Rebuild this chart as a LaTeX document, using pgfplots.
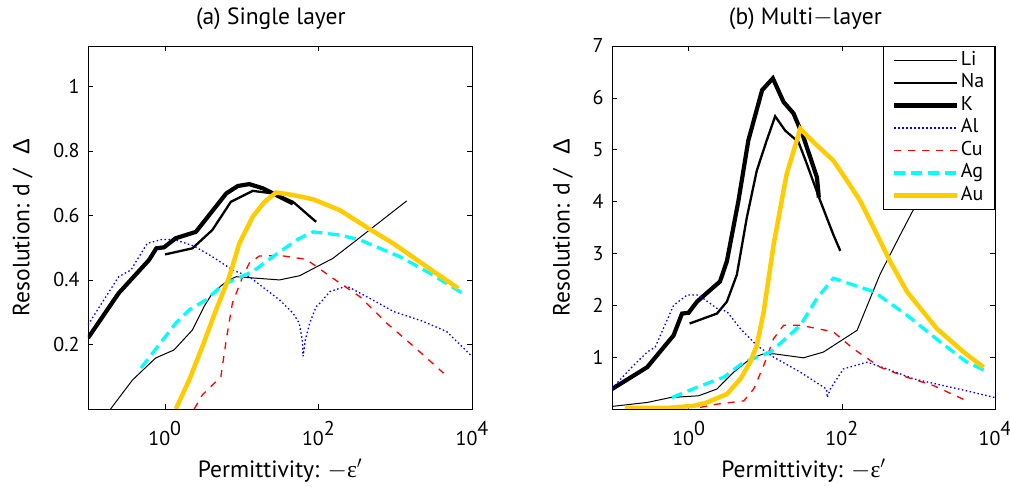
\documentclass[border=0pt]{standalone}
\usepackage{fontspec}
\setmainfont{PT Sans}
\newfontfamily\symfont{Liberation Sans}
\newfontfamily\serifgreek{Liberation Serif}
\usepackage{pgfplots}
\pgfplotsset{compat=1.18}

\definecolor{auyellow}{RGB}{255,204,0}
\definecolor{agcyan}{RGB}{0,255,255}
\definecolor{alblue}{RGB}{0,0,255}
\definecolor{cured}{RGB}{255,0,0}

\newcommand{\labelfont}{\fontsize{23.5}{23.5}\selectfont}

\pgfplotsset{
  panel/.style={
    scale only axis,
    height=363pt,
    xmin=0.1, xmax=10000,
    xtick={1,100,10000},
    xticklabels={10\raisebox{10pt}{0}, 10\raisebox{10pt}{2}, 10\raisebox{10pt}{4}},
    xminorticks=false, yminorticks=false,
    tick align=inside,
    major tick length=5pt,
    tick style={black, line width=0.6pt},
    axis line style={black, line width=0.8pt},
    ticklabel style={font=\fontsize{20}{20}\selectfont},
    xticklabel style={yshift=-9pt},
    yticklabel style={xshift=-5pt},
    xlabel={Permittivity: $-${\serifgreek ε}$'$},
    ylabel={Resolution: d /\hspace{0.6em}{\symfont Δ}},
    every axis x label/.style={at={(axis description cs:0.5,-0.19)}, anchor=base, font=\labelfont},
    title style={font=\labelfont, anchor=base},
    clip=true,
  },
  li/.style={black, line width=1.0pt},
  na/.style={black, line width=2.3pt},
  kk/.style={black, line width=4.2pt},
  al/.style={alblue, line width=1.3pt, dash pattern=on 1.5pt off 2.5pt},
  cu/.style={cured, line width=1.3pt, dash pattern=on 7pt off 7pt},
  ag/.style={agcyan, line width=3.3pt, dash pattern=on 11pt off 6pt},
  au/.style={auyellow, line width=4.5pt},
}

\begin{document}
\begin{tikzpicture}
\path[use as bounding box] (0pt,0pt) rectangle (1010pt,487pt);

% ---------------- (a) Single layer ----------------
\begin{semilogxaxis}[panel,
  at={(88pt,78pt)}, anchor=south west, width=384pt,
  ymin=0, ymax=1.125,
  ytick={0.2,0.4,0.6,0.8,1},
  yticklabels={0.2,0.4,0.6,0.8,1},
  title={(a) Single layer},
  title style={at={(axis description cs:0.476,1.044)}},
  every axis y label/.style={at={(axis description cs:-0.17,0.5)}, rotate=90, anchor=center, font=\labelfont},
]
\addplot[li] coordinates {
 (0.1968,0) (0.380,0.09) (0.759,0.158) (1.318,0.183) (2.291,0.245) (3.236,0.317)
 (4.169,0.359) (6.310,0.395) (8.511,0.41) (31.19,0.40) (56.89,0.413) (154.9,0.467)
 (316.2,0.524) (1413,0.645)};
\addplot[na] coordinates {
 (1.009,0.479) (2.291,0.498) (4.169,0.555) (7.244,0.642) (13.96,0.676) (25.70,0.668)
 (46.77,0.642) (93.33,0.58)};
\addplot[kk] coordinates {
 (0.1,0.22) (0.251,0.359) (0.624,0.462) (0.776,0.498) (0.977,0.501) (1.380,0.529)
 (2.541,0.549) (6.31,0.668) (8.913,0.691) (12.59,0.697) (18.88,0.684) (31.19,0.658)
 (46.77,0.637)};
\addplot[al] coordinates {
 (0.1,0.261) (0.251,0.41) (0.363,0.431) (0.589,0.513) (0.933,0.526) (1.380,0.524)
 (2.399,0.505) (4.169,0.472) (7.586,0.431) (12.59,0.41) (31.19,0.338) (46.77,0.297)
 (56.23,0.266) (61.66,0.214) (63.10,0.163) (67.61,0.214) (76.91,0.266) (93.33,0.317)
 (104.7,0.328) (141.3,0.364) (234.4,0.381) (426.6,0.348) (955.0,0.302) (2344,0.271)
 (4677,0.24) (10000,0.163)};
\addplot[cu] coordinates {
 (2.415,0) (3.090,0.044) (5.370,0.10) (6.310,0.214) (7.586,0.328) (10.33,0.41)
 (12.59,0.452) (16.98,0.474) (31.19,0.476) (69.18,0.464) (154.9,0.405) (346.7,0.348)
 (776.2,0.266) (1738,0.194) (4266,0.111)};
\addplot[ag] coordinates {
 (0.490,0.127) (0.841,0.199) (1.393,0.266) (2.080,0.307) (3.428,0.338) (5.623,0.384)
 (13.96,0.426) (31.19,0.487) (56.89,0.529) (85.11,0.549) (190.5,0.539) (346.7,0.524)
 (1148,0.472) (2851,0.42) (8128,0.354)};
\addplot[au] coordinates {
 (1.393,0) (2.080,0.09) (3.090,0.194) (4.645,0.307) (6.918,0.41) (9.333,0.513)
 (13.96,0.596) (19.95,0.642) (28.18,0.671) (46.77,0.663) (85.11,0.65) (190.5,0.616)
 (467.7,0.557) (944.1,0.513) (2570,0.441) (6607,0.374)};
\end{semilogxaxis}

% ---------------- (b) Multi-layer ----------------
\begin{semilogxaxis}[panel,
  at={(612pt,78pt)}, anchor=south west, width=383pt,
  ymin=0, ymax=7,
  ytick={1,2,3,4,5,6,7},
  yticklabels={1,2,3,4,5,6,7},
  title={(b) Multi$-$layer},
  title style={at={(axis description cs:0.505,1.044)}},
  every axis y label/.style={at={(axis description cs:-0.128,0.5)}, rotate=90, anchor=center, font=\labelfont},
  legend style={at={(1,1)}, anchor=north east, draw=black, line width=0.6pt, fill=white,
    font=\fontsize{20}{20}\selectfont, inner xsep=9pt, inner ysep=3pt,
    nodes={inner sep=1.5pt, text height=14.5pt, text depth=5pt}, row sep=0pt},
  legend cell align=left,
  legend image code/.code={\draw[#1] (0pt,0pt) -- (63pt,0pt);},
]
\addplot[li] coordinates {
 (0.1,0.05) (0.288,0.126) (0.575,0.22) (1.349,0.255) (2.344,0.385) (3.864,0.709)
 (6.383,0.968) (9.550,1.065) (12.88,1.065) (31.62,0.987) (57.54,1.098) (158.5,1.518)
 (316.2,2.6) (575.4,3.35) (912.0,3.915) (1413,4.4)};
\addlegendentry{Li}
\addplot[na] coordinates {
 (1.030,1.648) (2.344,1.84) (3.162,2.07) (4.266,2.59) (5.754,3.69) (7.762,4.596)
 (10.47,5.18) (13.49,5.645) (18.20,5.37) (27.23,5.146) (33.11,4.82) (52.48,4.01)
 (77.62,3.36) (95.50,3.05)};
\addlegendentry{Na}
\addplot[kk] coordinates {
 (0.1,0.385) (0.288,0.806) (0.637,1.42) (0.820,1.84) (1.0,1.856) (1.288,2.07)
 (1.919,2.295) (2.570,2.458) (3.162,2.85) (4.467,4.01) (6.026,5.18) (9.120,6.15)
 (12.59,6.376) (17.38,5.92) (23.44,5.70) (31.62,5.24) (47.42,4.466) (50.12,4.077)};
\addlegendentry{K}
\addplot[al] coordinates {
 (0.1,0.398) (0.1905,0.838) (0.288,1.098) (0.367,1.195) (0.637,2.0) (0.955,2.198)
 (1.349,2.198) (2.344,1.94) (3.162,1.88) (4.732,1.55) (7.762,1.226) (12.88,1.0)
 (28.84,0.709) (63.10,0.385) (64.57,0.22) (70.79,0.385) (104.7,0.773) (213.8,0.903)
 (389.0,0.773) (871.0,0.58) (2138,0.45) (4266,0.35) (10000,0.22)};
\addlegendentry{Al}
\addplot[cu] coordinates {
 (1.413,0.03) (2.344,0.093) (5.248,0.157) (7.079,0.385) (9.550,0.838) (12.88,1.356)
 (17.38,1.615) (28.84,1.615) (77.62,1.487) (141.3,1.162) (316.2,0.806) (707.9,0.612)
 (1585,0.45) (4266,0.157)};
\addlegendentry{Cu}
\addplot[ag] coordinates {
 (0.603,0.22) (1.288,0.418) (2.864,0.612) (5.248,0.904) (11.75,1.098) (28.84,1.615)
 (47.42,2.134) (77.62,2.522) (141.3,2.392) (260.0,2.264) (707.9,1.809) (1928,1.292)
 (4266,0.904) (7943,0.72)};
\addlegendentry{Ag}
\addplot[au] coordinates {
 (0.148,0.02) (0.525,0.02) (1.161,0.06) (1.738,0.126) (3.162,0.288) (4.732,0.58)
 (6.383,0.904) (7.762,1.226) (9.550,1.875) (12.88,3.17) (19.05,4.53) (28.71,5.404)
 (42.66,5.146) (77.62,4.79) (117.5,4.40) (173.8,4.013) (288.4,3.364) (426.6,2.847)
 (707.9,2.264) (1738,1.55) (3890,1.098) (7079,0.806)};
\addlegendentry{Au}
\end{semilogxaxis}
\end{tikzpicture}
\end{document}
